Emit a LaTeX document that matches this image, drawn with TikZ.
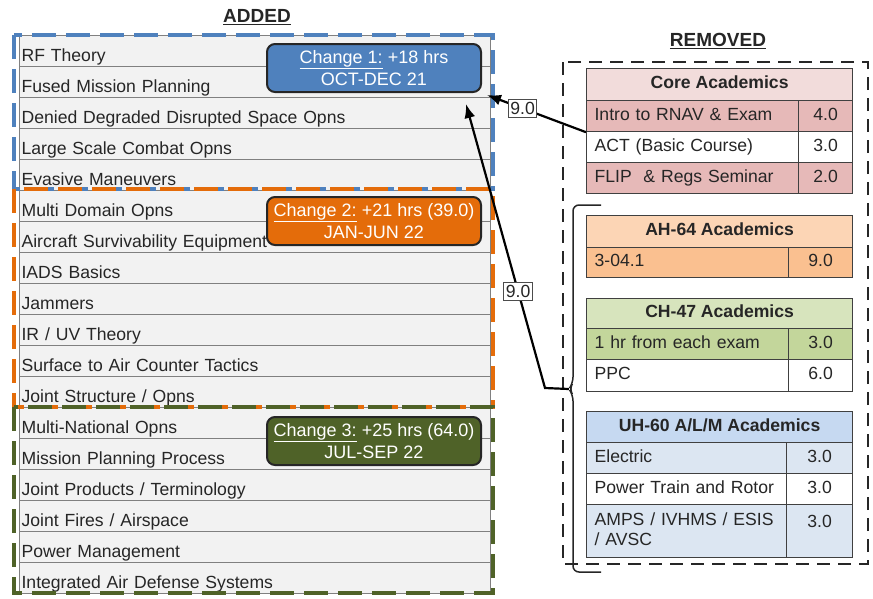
\documentclass[tikz,border=0pt]{standalone}
\usepackage{fontspec}
\setmainfont{Liberation Sans}
\usetikzlibrary{arrows.meta}

\definecolor{chgblue}{HTML}{4F81BD}
\definecolor{chgorange}{HTML}{E46C0A}
\definecolor{chggreen}{HTML}{4F6228}
\definecolor{rowgray}{HTML}{F2F2F2}
\definecolor{corehead}{HTML}{F2DCDB}
\definecolor{corerow}{HTML}{E6B9B8}
\definecolor{ahhead}{HTML}{FCD5B5}
\definecolor{ahrow}{HTML}{FAC090}
\definecolor{chhead}{HTML}{D7E4BD}
\definecolor{chrow}{HTML}{C3D69B}
\definecolor{uhhead}{HTML}{C6D9F1}
\definecolor{uhrow}{HTML}{DCE6F2}

\newcommand{\txtsize}{\fontsize{17.6}{19.5}\selectfont}

\begin{document}
\begin{tikzpicture}[
		x=1pt, y=-1pt,
		row/.style = {rectangle, draw=black!50, fill=rowgray, line width=1.2pt, anchor=north west, minimum height=31pt, inner xsep=2pt, inner ysep=0pt, text width=467pt, text height=26pt, text depth=5pt, align=left, text=black!85, font=\txtsize},
		bluedash/.style = {draw=chgblue, line width=4.5pt, dash pattern=on 24pt off 10pt},
		orangedash/.style = {draw=chgorange, line width=4.5pt, dash pattern=on 24pt off 10pt},
		greendash/.style = {draw=chggreen, line width=4.5pt, dash pattern=on 24pt off 10pt},
		chg/.style = {rectangle, rounded corners=8pt, draw=black!85, line width=2pt, minimum width=214pt, minimum height=48pt, align=center, text=white, font=\fontsize{18}{22}\selectfont},
		ttl/.style = {text=black!85, font=\bfseries\fontsize{19}{21}\selectfont},
		remdash/.style = {draw=black!85, line width=2.5pt, dash pattern=on 13pt off 8pt},
		head/.style = {rectangle, draw=black!75, line width=1.2pt, anchor=north west, minimum width=266pt, minimum height=31pt, inner sep=0pt, text height=13pt, text depth=5pt, text=black!85, font=\bfseries\txtsize},
		cell/.style = {rectangle, draw=black!75, line width=1.2pt, anchor=north west, minimum height=31pt, inner xsep=8pt, inner ysep=0pt, text width=#1, text height=13pt, text depth=5pt, align=left, text=black!85, font=\txtsize},
		val/.style = {rectangle, draw=black!75, line width=1.2pt, anchor=north west, minimum width=#1, minimum height=31pt, inner sep=0pt, text height=13pt, text depth=5pt, text=black!85, font=\txtsize},
		brc/.style = {draw=black!85, line width=1.5pt, rounded corners=6pt},
		lbl/.style = {rectangle, draw=black!70, fill=white, line width=1pt, inner xsep=2pt, inner ysep=3pt, text=black!85, font=\txtsize},
		arr/.style = {-{Latex[length=14pt,width=11pt]}, draw=black, line width=2.2pt}
		]
		
		\useasboundingbox (0,0) rectangle (873,598);
		
		%Added
		\node[ttl]	(added)	at	(257,17)	{\underline{ADDED}};
		\node[row]	(r1)	at	(19,35)	{RF Theory};
		\node[row]	(r2)	at	(19,66)	{Fused Mission Planning};
		\node[row]	(r3)	at	(19,97)	{Denied Degraded Disrupted Space Opns};
		\node[row]	(r4)	at	(19,128)	{Large Scale Combat Opns};
		\node[row]	(r5)	at	(19,159)	{Evasive Maneuvers};
		\node[row]	(r6)	at	(19,190)	{Multi Domain Opns};
		\node[row]	(r7)	at	(19,221)	{Aircraft Survivability Equipment};
		\node[row]	(r8)	at	(19,252)	{IADS Basics};
		\node[row]	(r9)	at	(19,283)	{Jammers};
		\node[row]	(r10)	at	(19,314)	{IR / UV Theory};
		\node[row]	(r11)	at	(19,345)	{Surface to Air Counter Tactics};
		\node[row]	(r12)	at	(19,376)	{Joint Structure / Opns};
		\node[row]	(r13)	at	(19,407)	{Multi-National Opns};
		\node[row]	(r14)	at	(19,438)	{Mission Planning Process};
		\node[row]	(r15)	at	(19,469)	{Joint Products / Terminology};
		\node[row]	(r16)	at	(19,500)	{Joint Fires / Airspace};
		\node[row]	(r17)	at	(19,531)	{Power Management};
		\node[row]	(r18)	at	(19,562)	{Integrated Air Defense Systems};
		
		\draw[bluedash]	(14,35)	rectangle	(493,189);
		\draw[orangedash]	(14,189)	rectangle	(493,407);
		\draw[greendash]	(14,407)	rectangle	(493,593);
		
		\node[chg, fill=chgblue]	(chg1)	at	(374,68)	{\underline{Change 1:} +18 hrs\\OCT-DEC 21};
		\node[chg, fill=chgorange]	(chg2)	at	(374,221)	{\underline{Change 2:} +21 hrs (39.0)\\JAN-JUN 22};
		\node[chg, fill=chggreen]	(chg3)	at	(374,441)	{\underline{Change 3:} +25 hrs (64.0)\\JUL-SEP 22};
		
		%Removed
		\node[ttl]	(removed)	at	(718,41)	{\underline{REMOVED}};
		\draw[remdash]	(563,62)	rectangle	(868,564);
		\draw[brc]	(601,205) -| (573,383) -- (569,389) -- (573,395) |- (601,572);
		\coordinate	(brk)	at	(569,389);
		
		\node[head, fill=corehead, minimum height=32pt]	(core)	at	(586,68)	{Core Academics};
		\node[cell=196pt, fill=corerow]	(c1)	at	(586,100)	{Intro to RNAV \& Exam};
		\node[val=54pt, fill=corerow]	(c1v)	at	(798,100)	{4.0};
		\node[cell=196pt, fill=white]	(c2)	at	(586,131)	{ACT (Basic Course)};
		\node[val=54pt, fill=white]	(c2v)	at	(798,131)	{3.0};
		\node[cell=196pt, fill=corerow]	(c3)	at	(586,162)	{FLIP \ \& Regs Seminar};
		\node[val=54pt, fill=corerow]	(c3v)	at	(798,162)	{2.0};
		
		\node[head, fill=ahhead, minimum height=32pt]	(ah)	at	(586,215)	{AH-64 Academics};
		\node[cell=186pt, fill=ahrow, minimum height=30pt]	(a1)	at	(586,247)	{3-04.1};
		\node[val=64pt, fill=ahrow, minimum height=30pt]	(a1v)	at	(788,247)	{9.0};
		
		\node[head, fill=chhead, minimum height=30pt]	(ch)	at	(586,298)	{CH-47 Academics};
		\node[cell=186pt, fill=chrow]	(h1)	at	(586,328)	{1 hr from each exam};
		\node[val=64pt, fill=chrow]	(h1v)	at	(788,328)	{3.0};
		\node[cell=186pt, fill=white, minimum height=32pt]	(h2)	at	(586,359)	{PPC};
		\node[val=64pt, fill=white, minimum height=32pt]	(h2v)	at	(788,359)	{6.0};
		
		\node[head, fill=uhhead]	(uh)	at	(586,411)	{UH-60 A/L/M Academics};
		\node[cell=184pt, fill=uhrow]	(u1)	at	(586,442)	{Electric};
		\node[val=66pt, fill=uhrow]	(u1v)	at	(786,442)	{3.0};
		\node[cell=184pt, fill=white]	(u2)	at	(586,473)	{Power Train and Rotor};
		\node[val=66pt, fill=uhrow, minimum height=53pt, text depth=20pt]	(u3v)	at	(786,504)	{3.0};
		\node[cell=184pt, fill=uhrow, minimum height=53pt, text depth=24pt]	(u3)	at	(586,504)	{\mbox{AMPS / IVHMS / ESIS}\\/ AVSC};
		\node[val=66pt, fill=white]	(u2v)	at	(786,473)	{3.0};
		
		%Lines
		\coordinate	(tip1)	at	(487,95);
		\coordinate	(tip2)	at	(466,104);
		\coordinate	(kink)	at	(545,388);
		\draw[arr]	(c1.south west)	--	node[lbl, pos=0.64]	{9.0}	(tip1);
		\draw[arr]	(brk)	--	(kink)	--	node[lbl, pos=0.34]	{9.0}	(tip2);
	\end{tikzpicture}
\end{document}
